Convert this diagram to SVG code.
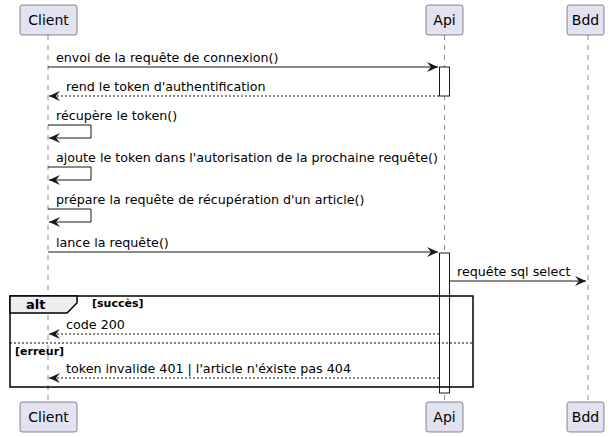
<svg xmlns="http://www.w3.org/2000/svg" width="613" height="437" viewBox="0 0 613 437">
<defs>
<style>
text{font-family:"DejaVu Sans",sans-serif;font-size:12.7px;fill:#000}
.part rect{fill:#E2E2F0;stroke:#181818;stroke-width:0.5}
.part text{font-size:14px;text-anchor:middle}
.life{stroke:#181818;stroke-width:0.5;stroke-dasharray:5 5;fill:none}
.act{fill:#fff;stroke:#181818;stroke-width:1}
.msg{stroke:#181818;stroke-width:1;fill:none}
.dash{stroke-dasharray:2 2}
.bold{font-weight:bold;font-size:11px}
</style>
<marker id="ah" viewBox="0 0 12 10" refX="11" refY="5" markerWidth="12" markerHeight="10" markerUnits="userSpaceOnUse" orient="auto">
<path d="M0,0 L11,5 L0,10 L4,5 Z" fill="#181818"/>
</marker>
</defs>
<rect width="613" height="437" fill="#fff"/>
<g id="lifelines">
<line class="life" x1="48" y1="35" x2="48" y2="402"/>
<line class="life" x1="444.5" y1="35" x2="444.5" y2="402"/>
<line class="life" x1="588" y1="35" x2="588" y2="402"/>
</g>
<g id="activations">
<rect class="act" x="439.5" y="67" width="10" height="29"/>
<rect class="act" x="439.5" y="253" width="10" height="140"/>
</g>
<g id="alt-frame">
<rect x="10" y="296" width="463" height="91" fill="none" stroke="#000" stroke-width="1.5"/>
<path d="M10,296 L77,296 L77,303 L67,313 L10,313 Z" fill="#EEEEEE" stroke="#000" stroke-width="1.5"/>
<text x="26" y="309" style="font-weight:bold;font-size:13px">alt</text>
<text class="bold" x="92" y="307">[succès]</text>
<line x1="10" y1="343" x2="473" y2="343" stroke="#000" stroke-width="1" stroke-dasharray="2 2"/>
<text class="bold" x="15" y="355">[erreur]</text>
</g>
<g id="connectors">
<line class="msg" x1="48" y1="67" x2="438" y2="67" marker-end="url(#ah)"/>
<text x="56" y="62">envoi de la requête de connexion()</text>
<line class="msg dash" x1="439" y1="96" x2="49" y2="96" marker-end="url(#ah)"/>
<text x="66" y="91">rend le token d'authentification</text>
<polyline class="msg" points="48,125 91,125 91,138 49,138" marker-end="url(#ah)"/>
<text x="56" y="120">récupère le token()</text>
<polyline class="msg" points="48,167 91,167 91,180 49,180" marker-end="url(#ah)"/>
<text x="56" y="162">ajoute le token dans l'autorisation de la prochaine requête()</text>
<polyline class="msg" points="48,209 91,209 91,222 49,222" marker-end="url(#ah)"/>
<text x="56" y="204">prépare la requête de récupération d'un article()</text>
<line class="msg" x1="48" y1="252" x2="438" y2="252" marker-end="url(#ah)"/>
<text x="56" y="247">lance la requête()</text>
<line class="msg" x1="449.5" y1="281" x2="586" y2="281" marker-end="url(#ah)"/>
<text x="457" y="276">requête sql select</text>
<line class="msg dash" x1="439" y1="334" x2="49" y2="334" marker-end="url(#ah)"/>
<text x="66" y="329">code 200</text>
<line class="msg dash" x1="439" y1="378" x2="49" y2="378" marker-end="url(#ah)"/>
<text x="66" y="373">token invalide 401 | l'article n'éxiste pas 404</text>
</g>
<g id="Client" class="part">
<rect x="20" y="5" width="57" height="30" rx="2.5"/>
<text x="48.5" y="25">Client</text>
<rect x="20" y="402" width="57" height="30" rx="2.5"/>
<text x="48.5" y="422">Client</text>
</g>
<g id="Api" class="part">
<rect x="426" y="5" width="37" height="30" rx="2.5"/>
<text x="444.5" y="25">Api</text>
<rect x="426" y="402" width="37" height="30" rx="2.5"/>
<text x="444.5" y="422">Api</text>
</g>
<g id="Bdd" class="part">
<rect x="567" y="5" width="37" height="30" rx="2.5"/>
<text x="585.5" y="25">Bdd</text>
<rect x="567" y="402" width="37" height="30" rx="2.5"/>
<text x="585.5" y="422">Bdd</text>
</g>
</svg>
